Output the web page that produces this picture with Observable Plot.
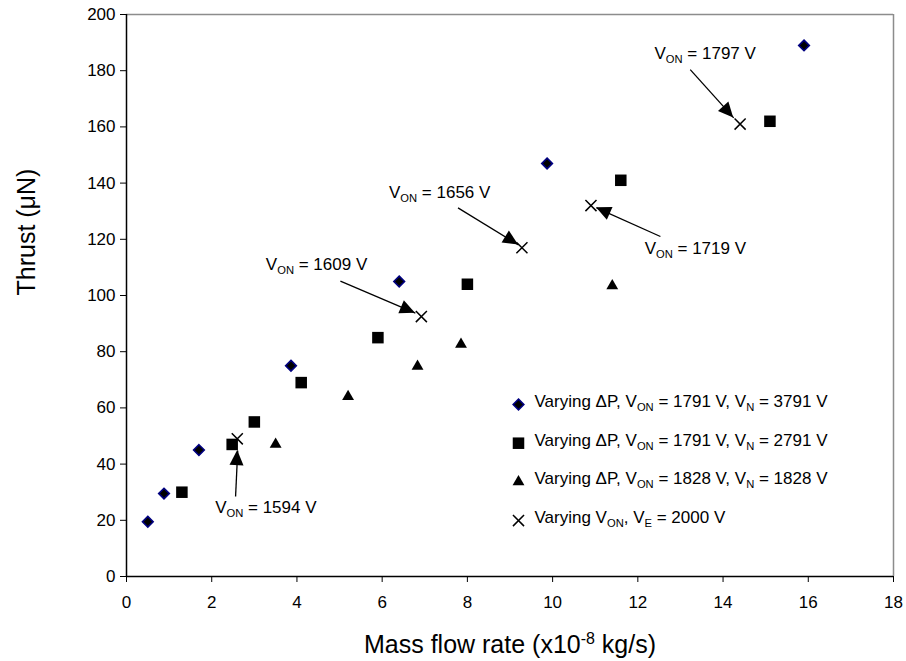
<!DOCTYPE html>
<html>
<head>
<meta charset="utf-8">
<script src="https://cdn.jsdelivr.net/npm/d3@7"></script>
<script src="https://cdn.jsdelivr.net/npm/@observablehq/plot@0.6"></script>
<style>
  html, body { margin: 0; padding: 0; background: #fff; }
</style>
</head>
<body>
<div id="chart"></div>
<script>
// ---- Data ----
const xTicks = [0, 2, 4, 6, 8, 10, 12, 14, 16, 18];
const yTicks = [0, 20, 40, 60, 80, 100, 120, 140, 160, 180, 200];

// Varying ΔP, VON = 1791 V, VN = 3791 V (diamonds)
const diamondX = [0.5, 0.88, 1.7, 3.86, 6.4, 9.87, 15.9];
const diamondY = [19.5, 29.5, 45, 75, 105, 147, 189];
// Varying ΔP, VON = 1791 V, VN = 2791 V (squares)
const squareX = [1.3, 2.48, 3.0, 4.1, 5.9, 8.0, 11.6, 15.1];
const squareY = [30, 47, 55, 69, 85, 104, 141, 162];
// Varying ΔP, VON = 1828 V, VN = 1828 V (triangles)
const triangleX = [3.5, 5.2, 6.83, 7.85, 11.4];
const triangleY = [47, 64, 74.8, 82.6, 103.4];
// Varying VON, VE = 2000 V (crosses)
const crossX = [2.6, 6.92, 9.28, 10.9, 14.4];
const crossY = [49, 92.5, 117, 132, 161];

const legendLabels = [
  "Varying \u0394P, V_{ON} = 1791 V, V_{N} = 3791 V",
  "Varying \u0394P, V_{ON} = 1791 V, V_{N} = 2791 V",
  "Varying \u0394P, V_{ON} = 1828 V, V_{N} = 1828 V",
  "Varying V_{ON}, V_{E} = 2000 V"
];

// Annotation labels and arrows (data coordinates)
const annLabels = ["V_{ON} = 1594 V", "V_{ON} = 1609 V", "V_{ON} = 1656 V", "V_{ON} = 1719 V", "V_{ON} = 1797 V"];
const annTextX = [3.27, 4.46, 7.35, 13.35, 13.58];
const annTextY = [24.6, 111, 136.8, 116.7, 186.1];
const annFromX = [2.56, 5.02, 7.78, 12.53, 13.23];
const annFromY = [28.5, 105.1, 131.2, 121, 180.4];
const annToX = [2.61, 6.78, 9.2, 11.03, 14.25];
const annToY = [44.8, 93.7, 118.0, 131.2, 163.2];

const xLabel = "Mass flow rate (x10^{-8} kg/s)";
const yLabel = "Thrust (\u03bcN)";

// ---- Build tables ----
const zip = (xs, ys) => xs.map((x, i) => ({x, y: ys[i]}));
const diamonds = zip(diamondX, diamondY);
const squares = zip(squareX, squareY);
const triangles = zip(triangleX, triangleY);
const crosses = zip(crossX, crossY);
const annotations = annLabels.map((label, i) => ({
  label, tx: annTextX[i], ty: annTextY[i],
  x1: annFromX[i], y1: annFromY[i], x2: annToX[i], y2: annToY[i]
}));

const FONT = "'Liberation Sans', Arial, Helvetica, sans-serif";

const seriesStyles = [
  {symbol: "diamond2", r: 4.8, fill: "black", stroke: "#000080", strokeWidth: 1.6},
  {symbol: "square", r: 6.5, fill: "black", stroke: "none", strokeWidth: 0},
  {symbol: "triangle", r: 4.4, fill: "black", stroke: "none", strokeWidth: 0},
  {symbol: "times", r: 5.1, fill: "none", stroke: "black", strokeWidth: 1.5}
];

const legendMarks = [];
const legendDX = 392, legendTextDX = 408, legendDY0 = 390, legendStep = 38.7;
legendLabels.forEach((lab, i) => {
  legendMarks.push(Plot.dot([lab], {
    frameAnchor: "top-left", dx: legendDX, dy: legendDY0 + i * legendStep,
    ...seriesStyles[i]
  }));
  legendMarks.push(Plot.text([lab], {
    text: d => d, frameAnchor: "top-left", dx: legendTextDX, dy: legendDY0 + i * legendStep - 3,
    textAnchor: "start", lineAnchor: "middle", fontSize: 17, fill: "black"
  }));
});

function arrowHeads(index, scales) {
  const g = d3.create("svg:g");
  for (const a of annotations) {
    const x1 = scales.x(a.x1), y1 = scales.y(a.y1);
    const x2 = scales.x(a.x2), y2 = scales.y(a.y2);
    const dx = x2 - x1, dy = y2 - y1, L = Math.hypot(dx, dy);
    const ux = dx / L, uy = dy / L;
    const hl = 15, hw = 7;
    const bx = x2 - ux * hl, by = y2 - uy * hl;
    g.append("path")
      .attr("d", `M${x2},${y2}L${bx - uy * hw},${by + ux * hw}L${bx + uy * hw},${by - ux * hw}Z`)
      .attr("fill", "black");
  }
  return g.node();
}

const chart = Plot.plot({
  width: 906,
  height: 661,
  marginLeft: 126,
  marginRight: 13,
  marginTop: 14,
  marginBottom: 85,
  style: {fontFamily: FONT, fontSize: "17px", color: "black", background: "white"},
  x: {domain: [0, 18], ticks: xTicks, tickSize: 6, tickPadding: 13, label: null},
  y: {domain: [0, 200], ticks: yTicks, tickSize: 6, tickPadding: 5, label: null},
  marks: [
    Plot.ruleY([200], {stroke: "#8c8c8c", strokeWidth: 1.5}),
    Plot.ruleX([18], {stroke: "#8c8c8c", strokeWidth: 1.5}),
    Plot.ruleX([0], {stroke: "black", strokeWidth: 1.5}),
    Plot.ruleY([0], {stroke: "black", strokeWidth: 1.5}),
    Plot.dot(diamonds, {x: "x", y: "y", ...seriesStyles[0]}),
    Plot.dot(squares, {x: "x", y: "y", ...seriesStyles[1]}),
    Plot.dot(triangles, {x: "x", y: "y", ...seriesStyles[2]}),
    Plot.dot(crosses, {x: "x", y: "y", ...seriesStyles[3]}),
    Plot.link(annotations, {x1: "x1", y1: "y1", x2: "x2", y2: "y2", stroke: "black", strokeWidth: 1.3}),
    arrowHeads,
    Plot.text(annotations, {x: "tx", y: "ty", text: "label", textAnchor: "middle", lineAnchor: "middle", fontSize: 17, fill: "black"}),
    ...legendMarks,
    Plot.text([yLabel], {text: d => d, frameAnchor: "left", dx: -100, rotate: -90, fontSize: 25, fill: "black", lineAnchor: "middle"}),
    Plot.text([xLabel], {text: d => d, frameAnchor: "bottom", dy: 68, fontSize: 25, fill: "black", lineAnchor: "middle"})
  ]
});

document.getElementById("chart").appendChild(chart);

// Rich text: subscripts _{..} and superscripts ^{..}
function richify(svg) {
  svg.querySelectorAll("text").forEach(t => {
    const s = t.textContent;
    if (!/[_^]\{/.test(s)) return;
    const fs = parseFloat(getComputedStyle(t).fontSize) || 17;
    while (t.firstChild) t.removeChild(t.firstChild);
    const re = /([_^])\{([^}]*)\}/g;
    let last = 0, shift = 0, m;
    const ns = "http://www.w3.org/2000/svg";
    const add = (txt, kind) => {
      if (!txt) return;
      const sp = document.createElementNS(ns, "tspan");
      let target = 0;
      if (kind === "_") { target = fs * 0.24; sp.setAttribute("font-size", (fs * 0.66).toFixed(1)); }
      else if (kind === "^") { target = -fs * 0.36; sp.setAttribute("font-size", (fs * 0.64).toFixed(1)); }
      const d = target - shift;
      if (d !== 0) sp.setAttribute("dy", d.toFixed(2));
      shift = target;
      sp.textContent = txt;
      t.appendChild(sp);
    };
    while ((m = re.exec(s))) {
      add(s.slice(last, m.index), null);
      add(m[2], m[1]);
      last = re.lastIndex;
    }
    add(s.slice(last), null);
  });
}
richify(chart);
</script>
</body>
</html>
